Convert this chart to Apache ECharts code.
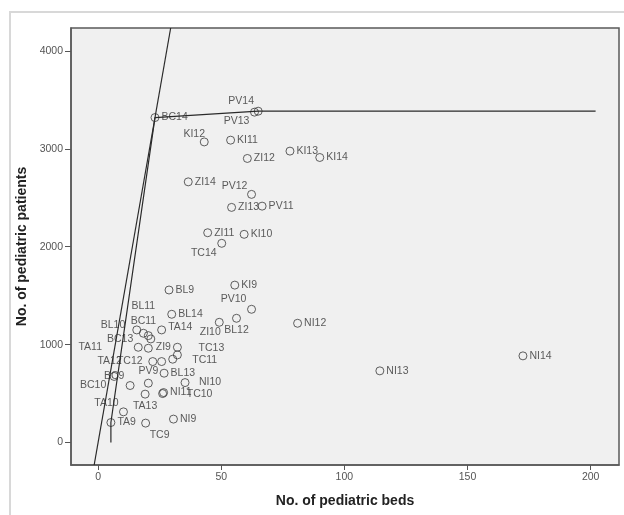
<!DOCTYPE html>
<html>
<head>
<meta charset="utf-8">
<script src="https://cdn.jsdelivr.net/npm/echarts@6/dist/echarts.min.js"></script>
<style>
  html, body { margin: 0; padding: 0; background: #fff; }
  #dea { width: 624px; height: 515px; }
</style>
</head>
<body>
<div id="dea"></div>
<script>
// hospital-years (beds vs patients)
var names = ['BC9','BC10','BC11','BC12','BC13','BC14',
             'BL9','BL10','BL11','BL12','BL13','BL14',
             'TA9','TA10','TA11','TA12','TA13','TA14',
             'TC9','TC10','TC11','TC12','TC13','TC14',
             'PV9','PV10','PV11','PV12','PV13','PV14',
             'KI9','KI10','KI11','KI12','KI13','KI14',
             'NI9','NI10','NI11','NI12','NI13','NI14',
             'ZI9','ZI10','ZI11','ZI12','ZI13','ZI14'];
var beds = [6.5, 13, 18.4, 20.4, 21.4, 23.1,
            28.8, 15.7, 20.4, 56.2, 26.8, 29.9,
            5.2, 10.3, 16.3, 25.8, 19.1, 25.8,
            19.3, 26.2, 30.3, 22.2, 32.2, 50.2,
            20.4, 62.3, 66.6, 62.3, 63.5, 65,
            55.5, 59.3, 53.8, 43.1, 77.9, 90,
            30.6, 35.3, 26.6, 81, 114.4, 172.5,
            32.2, 49.2, 44.5, 60.6, 54.2, 36.6];
var patients = [675, 582, 1116, 963, 1058, 3320,
                1558, 1150, 1092, 1269, 708, 1310,
                204, 313, 973, 827, 494, 1150,
                198, 500, 851, 827, 895, 2035,
                606, 1361, 2415, 2535, 3375, 3385,
                1608, 2127, 3089, 3071, 2977, 2912,
                239, 612, 510, 1218, 732, 885,
                973, 1228, 2143, 2902, 2402, 2663];

var xTicks = [0, 50, 100, 150, 200];
var yTicks = [0, 1000, 2000, 3000, 4000];

// frontier: VRS through these units, CRS ray through origin and crsPeer
var frontierNames = ['TA9', 'BC14', 'PV14'];
var frontierEndBeds = 202;
var crsPeer = 'BC14';

var xMin = -11, xMax = 211.5, yMin = -230, yMax = 4235;

// label placement [position, dx, dy]; default is right
var labelPlace = {
  BC9: ['inside', 0, 0], BC10: ['inside', -37, 0], BC11: ['top', 0, 0], BC12: ['none'],
  BC13: ['left', -11, 0], BL10: ['left', -5, -5], BL11: ['inside', -5, -30],
  BL12: ['bottom', 0, 0], TA10: ['inside', -17, -9], TA11: ['inside', -48, 0],
  TA12: ['inside', -52, 0], TA13: ['bottom', 0, 0], TA14: ['right', 0, -3],
  TC9: ['inside', 14, 12], TC10: ['inside', 37, 1], TC11: ['inside', 32, 1],
  TC12: ['inside', -23, 0], TC13: ['inside', 34, -7], TC14: ['inside', -18, 10],
  PV9: ['top', 0, 0], PV10: ['inside', -18, -10], PV12: ['inside', -17, -8],
  PV13: ['inside', -18, 9], PV14: ['inside', -17, -10], KI12: ['inside', -10, -8],
  NI10: ['inside', 25, 0], ZI9: ['left', 0, 0], ZI10: ['inside', -9, 10]
};

function idx(n) { return names.indexOf(n); }

var points = [];
for (var i = 0; i < names.length; i++) {
  var lp = labelPlace[names[i]] || ['right', 0, 0];
  points.push({
    name: names[i],
    value: [beds[i], patients[i]],
    label: {
      show: lp[0] !== 'none',
      position: lp[0] === 'none' ? 'right' : lp[0],
      offset: [lp[1] || 0, lp[2] || 0]
    }
  });
}

var vrs = [];
var first = idx(frontierNames[0]);
vrs.push([beds[first], 0]);
for (var j = 0; j < frontierNames.length; j++) {
  var k = idx(frontierNames[j]);
  vrs.push([beds[k], patients[k]]);
}
var last = idx(frontierNames[frontierNames.length - 1]);
vrs.push([frontierEndBeds, patients[last]]);

var p = idx(crsPeer);
var slope = patients[p] / beds[p];
var crs = [[yMin / slope, yMin], [yMax / slope, yMax]];

var myChart = echarts.init(document.getElementById('dea'));

var option = {
  animation: false,
  textStyle: { fontFamily: 'Liberation Sans, Arial, sans-serif' },
  graphic: [{
    type: 'rect',
    shape: { x: 10, y: 12, width: 800, height: 800 },
    style: { fill: 'none', stroke: '#d8d8d8', lineWidth: 2 },
    z: -1
  }],
  grid: {
    left: 71, right: 5, top: 28, bottom: 50,
    show: true,
    backgroundColor: '#f0f0f0',
    borderColor: '#5a5a5a',
    borderWidth: 1.5
  },
  xAxis: {
    type: 'value',
    min: xMin, max: xMax,
    name: 'No. of pediatric beds',
    nameLocation: 'middle',
    nameGap: 29,
    nameTextStyle: { fontWeight: 'bold', fontSize: 14, color: '#222' },
    splitLine: { show: false },
    axisLine: { show: true, onZero: false, lineStyle: { color: '#5a5a5a', width: 1.5 } },
    axisTick: { show: true, length: 5, customValues: xTicks, lineStyle: { color: '#555' } },
    axisLabel: { customValues: xTicks, margin: 7, fontSize: 10.5, color: '#555',
                 formatter: function (v) { return String(v); } }
  },
  yAxis: {
    type: 'value',
    min: yMin, max: yMax,
    name: 'No. of pediatric patients',
    nameLocation: 'middle',
    nameGap: 42,
    nameTextStyle: { fontWeight: 'bold', fontSize: 14, color: '#222' },
    splitLine: { show: false },
    axisLine: { show: true, onZero: false, lineStyle: { color: '#5a5a5a', width: 1.5 } },
    axisTick: { show: true, length: 6, customValues: yTicks, lineStyle: { color: '#555' } },
    axisLabel: { customValues: yTicks, margin: 8, fontSize: 10.5, color: '#555',
                 formatter: function (v) { return String(v); } }
  },
  series: [
    {
      type: 'line',
      data: crs,
      symbol: 'none',
      lineStyle: { color: '#2a2a2a', width: 1.2 },
      silent: true
    },
    {
      type: 'line',
      data: vrs,
      symbol: 'none',
      lineStyle: { color: '#2a2a2a', width: 1.2 },
      silent: true
    },
    {
      type: 'scatter',
      data: points,
      symbol: 'circle',
      symbolSize: 8,
      itemStyle: { color: 'transparent', borderColor: '#3a3a3a', borderWidth: 1 },
      label: {
        show: true,
        formatter: '{b}',
        distance: 2,
        fontSize: 10.5,
        color: '#333'
      }
    }
  ]
};

myChart.setOption(option);
</script>
</body>
</html>
